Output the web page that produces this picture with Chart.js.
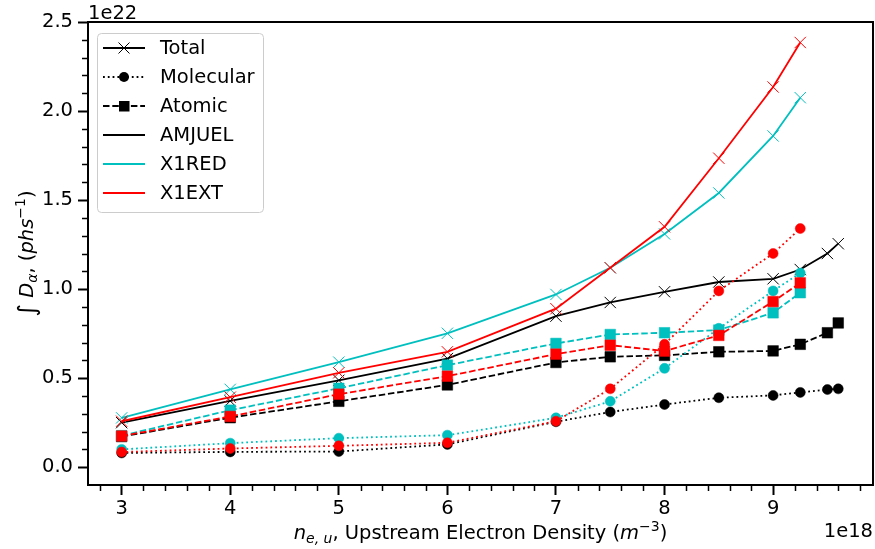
<!DOCTYPE html>
<html>
<head>
<meta charset="utf-8">
<script src="https://cdn.jsdelivr.net/npm/chart.js"></script>
<style>
  body { margin: 0; background: #fff; }
  canvas { display: block; }
</style>
</head>
<body>
<canvas id="myChart" width="875" height="549"></canvas>
<script>
// x values in units of 1e18 m^-3, y values in units of 1e22 ph/s
var xAmjuel = [3, 4, 5, 6, 7, 7.5, 8, 8.5, 9, 9.25, 9.5, 9.6];
var xModels = [3, 4, 5, 6, 7, 7.5, 8, 8.5, 9, 9.25];

var amjuelTotal = [0.25, 0.372, 0.488, 0.61, 0.848, 0.925, 0.985, 1.04, 1.058, 1.11, 1.20, 1.255];
var amjuelMol   = [0.08, 0.086, 0.088, 0.128, 0.255, 0.31, 0.352, 0.39, 0.403, 0.42, 0.436, 0.44];
var amjuelAtom  = [0.172, 0.278, 0.37, 0.462, 0.588, 0.62, 0.628, 0.648, 0.653, 0.69, 0.755, 0.81];

var x1redTotal = [0.277, 0.437, 0.59, 0.752, 0.97, 1.12, 1.31, 1.54, 1.86, 2.075];
var x1redMol   = [0.10, 0.135, 0.163, 0.18, 0.277, 0.37, 0.555, 0.78, 0.99, 1.09];
var x1redAtom  = [0.177, 0.32, 0.443, 0.573, 0.695, 0.745, 0.755, 0.77, 0.867, 0.98];

var x1extTotal = [0.258, 0.393, 0.53, 0.648, 0.89, 1.12, 1.35, 1.735, 2.135, 2.385];
var x1extMol   = [0.085, 0.105, 0.12, 0.137, 0.258, 0.44, 0.69, 0.99, 1.20, 1.34];
var x1extAtom  = [0.175, 0.285, 0.41, 0.511, 0.635, 0.685, 0.652, 0.74, 0.93, 1.035];

var xTicks = [3, 4, 5, 6, 7, 8, 9];
var yTicks = [0, 0.5, 1.0, 1.5, 2.0, 2.5];

var legendLabels = ['Total', 'Molecular', 'Atomic', 'AMJUEL', 'X1RED', 'X1EXT'];

var BLACK = '#000000', CYAN = '#00bfbf', RED = '#ff0000';
var FONT = '"DejaVu Sans", sans-serif';

function pts(xs, ys) {
    return xs.map(function (x, i) { return { x: x, y: ys[i] }; });
}

var plotIndex = 0;
function series(xs, ys, color, kind) {
    var ds = {
        data: pts(xs, ys),
        showLine: true,
        borderColor: color,
        backgroundColor: color,
        pointBackgroundColor: color,
        pointBorderColor: color,
        borderWidth: 1.8,
        order: 100 - (plotIndex++)
    };
    if (kind === 'total') {
        ds.pointStyle = 'crossRot';
        ds.pointRadius = 8;
        ds.pointBorderWidth = 1;
    } else if (kind === 'mol') {
        ds.borderDash = [1.8, 3];
        ds.pointStyle = 'circle';
        ds.pointRadius = 5;
        ds.pointBorderWidth = 0.5;
    } else {
        ds.borderDash = [6.5, 2.8];
        ds.pointStyle = 'rect';
        ds.pointRadius = 7.5;
        ds.pointBorderWidth = 0.5;
    }
    return ds;
}

var datasets = [
    series(xAmjuel, amjuelTotal, BLACK, 'total'),
    series(xAmjuel, amjuelMol, BLACK, 'mol'),
    series(xAmjuel, amjuelAtom, BLACK, 'atom'),
    series(xModels, x1redTotal, CYAN, 'total'),
    series(xModels, x1redMol, CYAN, 'mol'),
    series(xModels, x1redAtom, CYAN, 'atom'),
    series(xModels, x1extTotal, RED, 'total'),
    series(xModels, x1extMol, RED, 'mol'),
    series(xModels, x1extAtom, RED, 'atom')
];

// draws a run of text pieces (for sub/superscripts), centred on x
function drawRich(ctx, parts, x, y) {
    var total = 0;
    parts.forEach(function (p) {
        ctx.font = (p.it ? 'italic ' : '') + (p.s || 19.5) + 'px ' + FONT;
        p.w = ctx.measureText(p.t).width;
        total += p.w;
    });
    var cx = x - total / 2;
    ctx.textAlign = 'left';
    ctx.textBaseline = 'alphabetic';
    parts.forEach(function (p) {
        ctx.font = (p.it ? 'italic ' : '') + (p.s || 19.5) + 'px ' + FONT;
        ctx.fillText(p.t, cx, y + (p.dy || 0));
        cx += p.w;
    });
}

var decorPlugin = {
    id: 'decor',
    afterDraw: function (chart) {
        var ctx = chart.ctx, a = chart.chartArea;
        var xs = chart.scales.x, ys = chart.scales.y;
        ctx.save();
        ctx.strokeStyle = BLACK;
        ctx.fillStyle = BLACK;

        // minor ticks
        ctx.lineWidth = 1.5;
        ctx.beginPath();
        for (var i = 14; i <= 49; i++) {
            if (i % 5 === 0) continue;
            var px = Math.round(xs.getPixelForValue(i / 5)) + 0.5;
            if (px < a.left || px > a.right) continue;
            ctx.moveTo(px, a.bottom);
            ctx.lineTo(px, a.bottom + 6);
        }
        for (var j = -1; j <= 25; j++) {
            if (j % 5 === 0) continue;
            var py = Math.round(ys.getPixelForValue(j / 10)) + 0.5;
            if (py < a.top || py > a.bottom) continue;
            ctx.moveTo(a.left, py);
            ctx.lineTo(a.left - 6, py);
        }
        ctx.stroke();

        // frame
        ctx.lineWidth = 2;
        ctx.strokeRect(a.left, a.top, a.right - a.left, a.bottom - a.top);

        // offset texts
        ctx.font = '19.5px ' + FONT;
        ctx.textBaseline = 'alphabetic';
        ctx.textAlign = 'left';
        ctx.fillText('1e22', a.left, 19);
        ctx.textAlign = 'right';
        ctx.fillText('1e18', a.right, 537);

        // x title
        drawRich(ctx, [
            { t: 'n', it: true },
            { t: 'e, u', it: true, s: 14, dy: 4 },
            { t: ', Upstream Electron Density (' },
            { t: 'm', it: true },
            { t: '\u22123', s: 14, dy: -8 },
            { t: ')' }
        ], (a.left + a.right) / 2, 539);

        // y title
        ctx.save();
        ctx.translate(33, (a.top + a.bottom) / 2);
        ctx.rotate(-Math.PI / 2);
        drawRich(ctx, [
            { t: '\u222B', s: 24, dy: 2 },
            { t: ' ' },
            { t: 'D', it: true },
            { t: '\u03B1', it: true, s: 14, dy: 4 },
            { t: ', (' },
            { t: 'phs', it: true },
            { t: '\u22121', s: 14, dy: -8 },
            { t: ')' }
        ], 0, 0);
        ctx.restore();

        // legend
        var lx = 97, ly = 33, lw = 166, lh = 179;
        ctx.beginPath();
        ctx.roundRect(lx + 0.5, ly + 0.5, lw, lh, 4);
        ctx.fillStyle = 'rgba(255,255,255,0.8)';
        ctx.fill();
        ctx.strokeStyle = '#cccccc';
        ctx.lineWidth = 1;
        ctx.stroke();

        var rowY = [48, 77, 106, 135, 164, 193];
        var lineCols = [BLACK, BLACK, BLACK, BLACK, CYAN, RED];
        var dashes = [[], [1.8, 3], [6.5, 2.8], [], [], []];
        legendLabels.forEach(function (lab, k) {
            var y = rowY[k];
            ctx.strokeStyle = lineCols[k];
            ctx.lineWidth = 2;
            ctx.setLineDash(dashes[k]);
            ctx.beginPath();
            ctx.moveTo(103, y);
            ctx.lineTo(145, y);
            ctx.stroke();
            ctx.setLineDash([]);
            ctx.fillStyle = BLACK;
            ctx.strokeStyle = BLACK;
            if (k === 0) {
                ctx.lineWidth = 1;
                ctx.beginPath();
                ctx.moveTo(118.5, y - 5.5); ctx.lineTo(129.5, y + 5.5);
                ctx.moveTo(129.5, y - 5.5); ctx.lineTo(118.5, y + 5.5);
                ctx.stroke();
            } else if (k === 1) {
                ctx.beginPath();
                ctx.arc(124, y, 5, 0, Math.PI * 2);
                ctx.fill();
            } else if (k === 2) {
                ctx.fillRect(119, y - 5, 10.5, 10.5);
            }
            ctx.font = '19.5px ' + FONT;
            ctx.textAlign = 'left';
            ctx.textBaseline = 'middle';
            ctx.fillText(lab, 160, y + 1);
        });
        ctx.restore();
    }
};

var ctx = document.getElementById('myChart').getContext('2d');

var myChart = new Chart(ctx, {
    type: 'scatter',
    data: { datasets: datasets },
    plugins: [decorPlugin],
    options: {
        responsive: false,
        animation: false,
        devicePixelRatio: 1,
        layout: { autoPadding: false, padding: { left: 0, right: 2, top: 22, bottom: 0 } },
        plugins: {
            legend: { display: false },
            tooltip: { enabled: false }
        },
        scales: {
            x: {
                type: 'linear',
                min: 2.69,
                max: 9.92,
                afterBuildTicks: function (s) {
                    s.ticks = xTicks.map(function (v) { return { value: v }; });
                },
                afterFit: function (s) { s.height = 64; },
                ticks: {
                    color: BLACK,
                    font: { family: FONT, size: 19.5 },
                    padding: 2,
                    callback: function (v) { return String(v); }
                },
                grid: {
                    drawOnChartArea: false,
                    tickLength: 10,
                    tickWidth: 2,
                    tickColor: BLACK
                },
                border: { display: false }
            },
            y: {
                type: 'linear',
                min: -0.1,
                max: 2.5,
                afterBuildTicks: function (s) {
                    s.ticks = yTicks.map(function (v) { return { value: v }; });
                },
                afterFit: function (s) { s.width = 88; },
                ticks: {
                    color: BLACK,
                    font: { family: FONT, size: 19.5 },
                    padding: 5,
                    callback: function (v) { return v.toFixed(1); }
                },
                grid: {
                    drawOnChartArea: false,
                    tickLength: 10,
                    tickWidth: 2,
                    tickColor: BLACK
                },
                border: { display: false }
            }
        }
    }
});
</script>
</body>
</html>
